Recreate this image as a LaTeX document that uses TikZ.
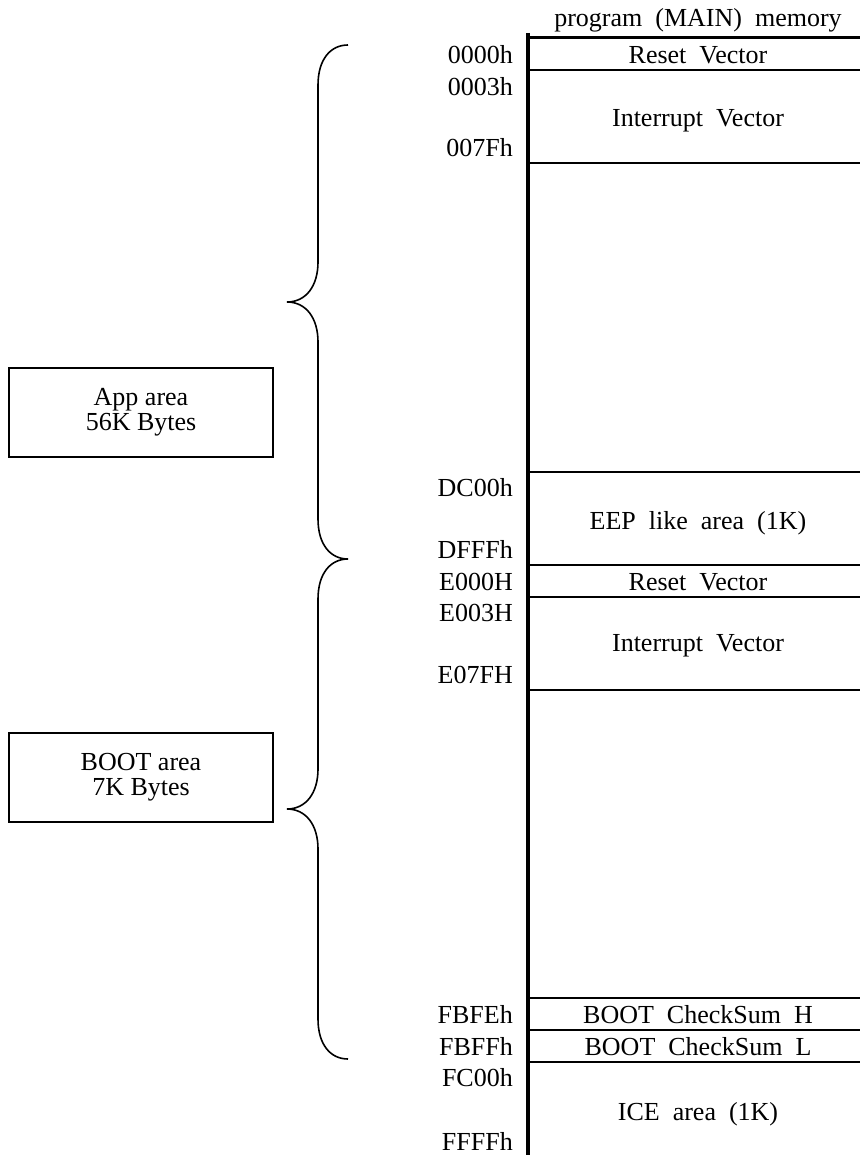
\documentclass[tikz,border=0pt]{standalone}
\usepackage{fontspec}
\setmainfont{Liberation Serif}

\begin{document}
\begin{tikzpicture}[x=1pt,y=-1pt,
      txt/.style={font=\fontsize{26}{25}\selectfont,inner sep=0pt,text height=18pt,text depth=1pt},
      addr/.style={txt,anchor=east},
      area/.style={rectangle,draw,line width=1.3pt,minimum width=264pt,minimum height=89pt,align=center,font=\fontsize{26}{25}\selectfont},
      sep/.style={line width=2pt},
      brc/.style={line width=1.6pt}]
      \useasboundingbox (0,0) rectangle (860,1155);
      % memory column
      \node[txt] (title) at (698,18) {program~~(MAIN)~~memory};
      \draw[line width=4pt] (528,33) -- (528,1155);
      \draw[line width=3pt] (526,38) -- (860,38);
      \foreach \y in {70,163,472,565,597,690,998,1030,1062}
        \draw[sep] (528,\y) -- (860,\y);
      % addresses
      \foreach \a/\y in {0000h/55,0003h/87,007Fh/148,DC00h/488,DFFFh/550,E000H/582,E003H/613,E07FH/675,FBFEh/1015,FBFFh/1047,FC00h/1078,FFFFh/1142}
        \node[addr] (a-\a) at (513,\y) {\a};
      % contents
      \node[txt] (reset1) at (698,55) {Reset~~Vector};
      \node[txt] (intr1) at (698,118) {Interrupt~~Vector};
      \node[txt] (eep) at (698,521) {EEP~~like~~area~~(1K)};
      \node[txt] (reset2) at (698,582) {Reset~~Vector};
      \node[txt] (intr2) at (698,643) {Interrupt~~Vector};
      \node[txt] (cksh) at (698,1015) {BOOT~~CheckSum~~H};
      \node[txt] (cksl) at (698,1047) {BOOT~~CheckSum~~L};
      \node[txt] (ice) at (698,1112) {ICE~~area~~(1K)};
      % areas
      \node[area] (app) at (141,412.5) {App area\\56K Bytes};
      \node[area] (boot) at (141,777.5) {BOOT area\\7K Bytes};
      \draw[brc] (348,45) .. controls (330,45) and (318,60) .. (318,85) -- (318,262)
        .. controls (318,286) and (306,302) .. (287,302)
        .. controls (306,302) and (318,318) .. (318,342) -- (318,519)
        .. controls (318,544) and (330,559) .. (348,559);
      \draw[brc] (348,559) .. controls (330,559) and (318,574) .. (318,599) -- (318,769)
        .. controls (318,793) and (306,809) .. (287,809)
        .. controls (306,809) and (318,825) .. (318,849) -- (318,1019)
        .. controls (318,1044) and (330,1059) .. (348,1059);
    \end{tikzpicture}
\end{document}
